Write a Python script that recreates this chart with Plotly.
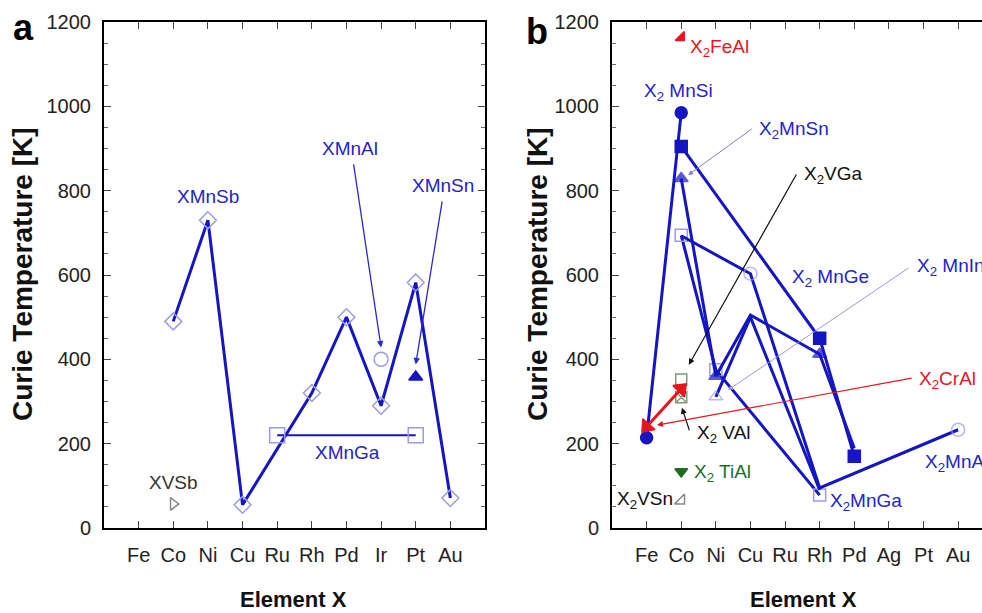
import plotly.graph_objects as go

# ---------------- data ----------------
elements_a = ['Fe', 'Co', 'Ni', 'Cu', 'Ru', 'Rh', 'Pd', 'Ir', 'Pt', 'Au']
elements_b = ['Fe', 'Co', 'Ni', 'Cu', 'Ru', 'Rh', 'Pd', 'Ag', 'Pt', 'Au']
y_ticks = [0, 200, 400, 600, 800, 1000, 1200]

# panel a
xmnsb_x = ['Co', 'Ni', 'Cu', 'Rh', 'Pd', 'Ir', 'Pt', 'Au']
xmnsb_y = [490, 730, 55, 320, 500, 290, 582, 71]
xmnga_x = ['Ru', 'Pt']
xmnga_y = [220, 220]
xmnal_x = ['Ir']
xmnal_y = [400]
xmnsn_x = ['Pt']
xmnsn_y = [358]
xvsb_x = ['Co']
xvsb_y = [57]

# panel b
x2mnsi_x = ['Fe', 'Co']
x2mnsi_y = [214, 985]
x2mnge_x = ['Co', 'Rh', 'Pd']
x2mnge_y = [905, 450, 170]
x2mnsn_x = ['Co', 'Ni', 'Cu', 'Rh', 'Pd']
x2mnsn_y = [829, 360, 505, 412, 189]
x2mnga_x = ['Co', 'Ni', 'Rh']
x2mnga_y = [694, 375, 78]
x2mnal_x = ['Co', 'Cu', 'Rh', 'Au']
x2mnal_y = [693, 603, 95, 233]
x2mnin_x = ['Ni', 'Cu', 'Rh']
x2mnin_y = [311, 500, 90]
x2cral_x = ['Fe', 'Co']
x2cral_y = [240, 330]
x2feal_x = ['Co']
x2feal_y = [1163]
x2vga_x = ['Co']
x2vga_y = [352]
x2val_x = ['Co']
x2val_y = [310]
x2tial_x = ['Co']
x2tial_y = [134]
x2vsn_x = ['Co']
x2vsn_y = [65]

# ---------------- style ----------------
BLUE = '#1515c4'
OPEN = '#9c9ce6'
TXTBLUE = '#2424c8'
RED = '#e8141e'
GREEN = '#1f6e1f'
GRAYGREEN = '#7a9a7a'
FONT = 'Liberation Sans, Arial, sans-serif'

fig = go.Figure()

def add(x, y, axis, mode, color=BLUE, width=3, symbol='circle', msize=11,
        mcolor=None, angle=None):
    xa, ya = axis
    marker = dict(symbol=symbol, size=msize, color=mcolor or color,
                  line=dict(color=mcolor or color, width=1.5))
    if angle is not None:
        marker['angle'] = angle
    fig.add_trace(go.Scatter(x=x, y=y, xaxis=xa, yaxis=ya, mode=mode,
                             line=dict(color=color, width=width),
                             marker=marker, cliponaxis=False,
                             hoverinfo='skip'))

A = ('x', 'y')
B = ('x2', 'y2')

# panel a traces
add(xmnsb_x, xmnsb_y, A, 'lines+markers', symbol='diamond-open', msize=13, mcolor=OPEN)
add(xmnga_x, xmnga_y, A, 'lines+markers', width=2, symbol='square-open', msize=15, mcolor=OPEN)
add(xmnal_x, xmnal_y, A, 'markers', symbol='circle-open', msize=14, mcolor=OPEN)
add(xmnsn_x, xmnsn_y, A, 'markers', symbol='triangle-up', msize=12, mcolor=BLUE)
add(xvsb_x, xvsb_y, A, 'markers', symbol='triangle-right-open', msize=11, mcolor='#888888')

# panel b traces
add(x2mnga_x, x2mnga_y, B, 'lines+markers', symbol='square-open', msize=12, mcolor=OPEN)
add(x2mnal_x, x2mnal_y, B, 'lines+markers', symbol='circle-open', msize=[0, 13, 0, 13], mcolor=OPEN)
add(x2mnin_x, x2mnin_y, B, 'lines+markers', symbol='triangle-up-open', msize=[12, 0, 0], mcolor=OPEN)
add(x2mnsn_x, x2mnsn_y, B, 'lines+markers', symbol='triangle-up', msize=[12, 12, 0, 12, 0], mcolor=BLUE)
add(x2mnge_x, x2mnge_y, B, 'lines+markers', symbol='square', msize=12, mcolor=BLUE)
add(x2mnsi_x, x2mnsi_y, B, 'lines+markers', symbol='circle', msize=12, mcolor=BLUE)
add(x2vga_x, x2vga_y, B, 'markers', symbol='square-open', msize=11, mcolor=GRAYGREEN)
add(x2val_x, x2val_y, B, 'markers', symbol='square-x-open', msize=11, mcolor=GRAYGREEN)
add(x2cral_x, x2cral_y, B, 'lines+markers', color=RED, width=3, symbol='triangle-up',
    msize=14, mcolor=RED, angle=[221, 45])
add(x2feal_x, x2feal_y, B, 'markers', symbol='triangle-se', msize=10, mcolor=RED)
add(x2tial_x, x2tial_y, B, 'markers', symbol='triangle-down', msize=11, mcolor=GREEN)
add(x2vsn_x, x2vsn_y, B, 'markers', symbol='triangle-se-open', msize=11, mcolor='#888888')

# ---------------- axes ----------------
tickfont = dict(family=FONT, size=20, color='#222222')
common_x = dict(type='category', categoryorder='array', showgrid=False, zeroline=False,
                showline=True, linecolor='black', linewidth=2, mirror='allticks',
                ticks='inside', ticklen=7, tickwidth=1.2, tickcolor='#444',
                tickfont=tickfont, ticklabelstandoff=8, automargin=False)
common_y = dict(range=[0, 1200], tickvals=y_ticks, showgrid=False, zeroline=False,
                showline=True, linecolor='black', linewidth=2,
                ticks='inside', ticklen=7, tickwidth=1.2, tickcolor='#444',
                minor=dict(dtick=50, ticks='inside', ticklen=4, tickwidth=1, tickcolor='#666'),
                tickfont=tickfont, ticklabelstandoff=7, automargin=False,
                domain=[1 - 528 / 613, 1 - 22 / 613])

fig.update_layout(
    width=982, height=613, margin=dict(l=0, r=0, t=0, b=0, pad=0),
    paper_bgcolor='white', plot_bgcolor='white', showlegend=False,
    xaxis=dict(common_x, categoryarray=elements_a, range=[-1, 10],
               domain=[104 / 982, 485 / 982], anchor='y'),
    yaxis=dict(common_y, mirror='allticks', anchor='x'),
    xaxis2=dict(common_x, categoryarray=elements_b, range=[-1, 9.69],
                domain=[612 / 982, 1.0], anchor='y2'),
    yaxis2=dict(common_y, mirror=False, anchor='x2'),
)

ann = []

def text(x, y, s, ref, color=TXTBLUE, xanchor='center', size=19):
    ann.append(dict(x=x, y=y, xref=ref[0], yref=ref[1], text=s, showarrow=False,
                    xanchor=xanchor, yanchor='middle',
                    font=dict(family=FONT, size=size, color=color)))

def arrow(x0, y0, x1, y1, ref, color, width=1.2, head=2, size=1.0):
    ann.append(dict(x=x1, y=y1, ax=x0, ay=y0, xref=ref[0], yref=ref[1],
                    axref=ref[0], ayref=ref[1], text='', showarrow=True,
                    arrowhead=head, arrowsize=size, arrowwidth=width,
                    arrowcolor=color, standoff=0, startstandoff=0))

# panel a labels
text(2.0, 785, 'XMnSb', A)
text(6.11, 901, 'XMnAl', A)
text(8.8, 813, 'XMnSn', A)
text(6.02, 178, 'XMnGa', A)
text(1.0, 107, 'XVSb', A, color='#333333')
arrow(6.2, 866, 7.0, 428, A, '#2a2ad0', width=1.3)
arrow(8.77, 778, 8.0, 388, A, '#2a2ad0', width=1.3)

# panel b labels
text(1.2, 1138, 'X<sub>2</sub>FeAl', B, color=RED, xanchor='left')
text(0.91, 1034, 'X<sub>2</sub> MnSi', B)
text(3.18, 944, 'X<sub>2</sub>MnSn', B, xanchor='left')
text(4.48, 837, 'X<sub>2</sub>VGa', B, color='#111111', xanchor='left')
text(4.14, 593, 'X<sub>2</sub> MnGe', B, xanchor='left')
text(7.76, 619, 'X<sub>2</sub> MnIn', B, xanchor='left')
text(7.81, 351, 'X<sub>2</sub>CrAl', B, color=RED, xanchor='left')
text(1.40, 223, 'X<sub>2</sub> VAl', B, color='#111111', xanchor='left')
text(1.30, 130, 'X<sub>2</sub> TiAl', B, color=GREEN, xanchor='left')
text(0.82, 66, 'X<sub>2</sub>VSn', B, color='#111111', xanchor='right')
text(5.24, 62, 'X<sub>2</sub>MnGa', B, xanchor='left')
text(7.99, 154, 'X<sub>2</sub>MnAl', B, xanchor='left')
arrow(3.08, 949, 1.2, 837, B, '#7f7fd4', width=1.0)
arrow(4.35, 842, 1.22, 387, B, '#111111', width=1.2)
arrow(1.25, 228, 1.02, 285, B, '#111111', width=1.2)
arrow(7.61, 619, 2.35, 327, B, '#9a9ade', width=1.0)
arrow(7.70, 356, 0.30, 244, B, RED, width=1.2)

# axis titles and panel letters
for xc in (22 / 982, 537 / 982):
    ann.append(dict(x=xc, y=1 - 274 / 613, xref='paper', yref='paper',
                    text='<b>Curie Temperature [K]</b>', textangle=-90, showarrow=False,
                    xanchor='center', yanchor='middle',
                    font=dict(family=FONT, size=28, color='#111111')))
for xc in (293 / 982, 803 / 982):
    ann.append(dict(x=xc, y=1 - 599 / 613, xref='paper', yref='paper',
                    text='<b>Element X</b>', showarrow=False,
                    xanchor='center', yanchor='middle',
                    font=dict(family=FONT, size=22, color='#111111')))
ann.append(dict(x=23 / 982, y=1 - 27 / 613, xref='paper', yref='paper', text='<b>a</b>',
                showarrow=False, xanchor='center', yanchor='middle',
                font=dict(family=FONT, size=36, color='black')))
ann.append(dict(x=537 / 982, y=1 - 32 / 613, xref='paper', yref='paper', text='<b>b</b>',
                showarrow=False, xanchor='center', yanchor='middle',
                font=dict(family=FONT, size=36, color='black')))

fig.update_layout(annotations=ann)

fig.write_html("out.html", config={'displayModeBar': False},
               post_script="document.body.style.margin='0';")
